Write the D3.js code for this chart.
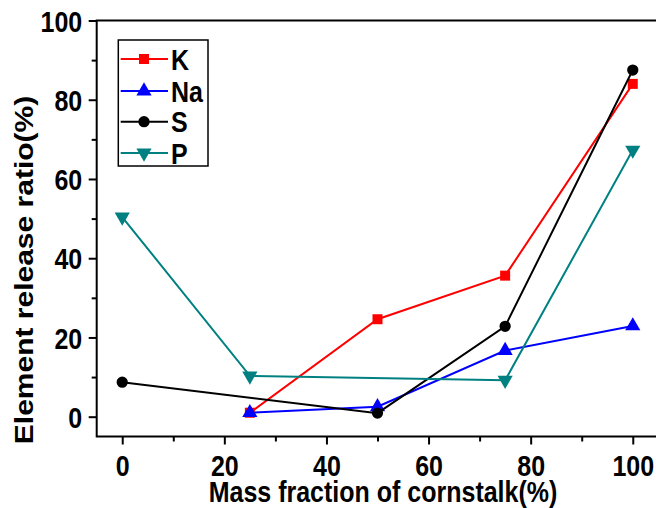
<!DOCTYPE html>
<html><head><meta charset="utf-8">
<script src="https://cdn.jsdelivr.net/npm/d3@7"></script>
<style>body{margin:0;background:#fff}svg{display:block}text{font-family:"Liberation Sans",Arial,sans-serif;font-weight:bold}</style>
</head><body><svg id="c" width="656" height="508"></svg>
<script>
const xValues = [0, 25, 50, 75, 100];
const K  = [null, 1.0, 24.6, 35.6, 84.0];
const Na = [null, 1.0, 2.5, 16.7, 22.9];
const S  = [8.7, null, 0.9, 22.8, 87.5];
const P  = [50.4, 10.3, null, 9.2, 67.3];
const seriesNames = ["K", "Na", "S", "P"];
const xTicks = [0, 20, 40, 60, 80, 100];
const xMinor = [10, 30, 50, 70, 90];
const yTicks = [0, 20, 40, 60, 80, 100];
const yMinor = [10, 30, 50, 70, 90];
const xTitle = "Mass fraction of cornstalk(%)";
const yTitle = "Element release ratio(%)";

const colors = {K: "#ff0000", Na: "#0000ff", S: "#000000", P: "#008080"};
const symbols = {K: d3.symbolSquare, Na: d3.symbolTriangle, S: d3.symbolCircle, P: d3.symbolTriangle};
const symSize = {K: 100, Na: 100, S: 100, P: 100};
const symRot = {K: 0, Na: 0, S: 0, P: 180};
const dataMap = {K, Na, S, P};

const svg = d3.select("#c");
const L = 96.7, R = 658.3, T = 20.5, B = 436.5;
const x = d3.scaleLinear([-5, 105], [L, R]);
const y = d3.scaleLinear([-5, 100], [B, T]);
const SY = 1.2, FS = 25;

// lines and markers
seriesNames.forEach(name => {
  const pts = xValues.map((xv, i) => ({x: xv, y: dataMap[name][i]})).filter(d => d.y != null);
  svg.append("path").datum(pts)
    .attr("fill", "none").attr("stroke", colors[name]).attr("stroke-width", 2)
    .attr("d", d3.line().x(d => x(d.x)).y(d => y(d.y)));
  svg.selectAll(null).data(pts).enter().append("path")
    .attr("d", d3.symbol(symbols[name], symSize[name]))
    .attr("fill", colors[name])
    .attr("transform", d => `translate(${x(d.x)},${y(d.y)}) rotate(${symRot[name]})`);
});

// frame
svg.append("rect").attr("x", L).attr("y", T).attr("width", R - L).attr("height", B - T)
  .attr("fill", "none").attr("stroke", "#000").attr("stroke-width", 2);

// x axis
const gx = svg.append("g").attr("transform", `translate(0,${B})`);
gx.call(d3.axisBottom(x).tickValues(xTicks).tickSize(8).tickSizeOuter(0));
const gxm = svg.append("g").attr("transform", `translate(0,${B})`);
gxm.call(d3.axisBottom(x).tickValues(xMinor).tickSize(5).tickSizeOuter(0).tickFormat(""));
[gx, gxm].forEach(g => { g.select(".domain").remove(); g.selectAll("line").attr("stroke-width", 2); });
gx.selectAll("text").attr("y", 0).attr("dy", null)
  .attr("transform", `translate(0,39) scale(1,${SY})`)
  .attr("font-size", FS).attr("font-family", null).attr("fill", "#000");

// y axis
const gy = svg.append("g").attr("transform", `translate(${L},0)`);
gy.call(d3.axisLeft(y).tickValues(yTicks).tickSize(8).tickSizeOuter(0));
const gym = svg.append("g").attr("transform", `translate(${L},0)`);
gym.call(d3.axisLeft(y).tickValues(yMinor).tickSize(5).tickSizeOuter(0).tickFormat(""));
[gy, gym].forEach(g => { g.select(".domain").remove(); g.selectAll("line").attr("stroke-width", 2); });
gy.selectAll("text").attr("x", 0).attr("dy", null)
  .attr("transform", `translate(-14.5,10.7) scale(1,${SY})`)
  .attr("font-size", FS).attr("font-family", null).attr("fill", "#000");

// titles
svg.append("text").attr("transform", `translate(383,502) scale(1,${SY})`)
  .attr("text-anchor", "middle").attr("font-size", FS).text(xTitle);
svg.append("text").attr("transform", `translate(33,270) scale(1,${SY}) rotate(-90)`)
  .attr("text-anchor", "middle").attr("font-size", FS).text(yTitle);

// legend
const lg = svg.append("g");
lg.append("rect").attr("x", 118.3).attr("y", 40).attr("width", 89.7).attr("height", 126)
  .attr("fill", "#fff").attr("stroke", "#000").attr("stroke-width", 1.5);
const legY = [59, 91, 121.7, 153];
seriesNames.forEach((name, i) => {
  const yy = legY[i];
  lg.append("line").attr("x1", 120.7).attr("x2", 168).attr("y1", yy).attr("y2", yy)
    .attr("stroke", colors[name]).attr("stroke-width", 2);
  lg.append("path").attr("d", d3.symbol(symbols[name], symSize[name]))
    .attr("fill", colors[name])
    .attr("transform", `translate(144,${yy}) rotate(${symRot[name]})`);
  lg.append("text").attr("transform", `translate(171,${yy + 10.7}) scale(1,${SY})`)
    .attr("font-size", FS).text(name);
});
</script></body></html>
